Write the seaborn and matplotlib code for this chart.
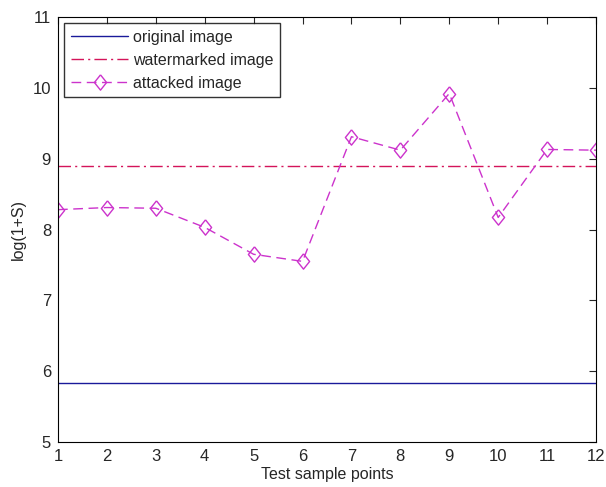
import numpy as np
import pandas as pd
import matplotlib
matplotlib.use("Agg")
import matplotlib.pyplot as plt
import seaborn as sns

points = list(range(1, 13))
original = [5.84] * 12
watermarked = [8.89] * 12
attacked = [8.28, 8.31, 8.30, 8.03, 7.65, 7.55, 9.31, 9.12, 9.92, 8.17, 9.13, 9.12]

sns.set_style("white")
plt.rcParams["font.family"] = ["Liberation Sans", "DejaVu Sans"]

df = pd.DataFrame({"x": points, "original": original,
                   "watermarked": watermarked, "attacked": attacked})

# matlab-like diamond, a bit narrower than tall
diamond = [(0, 1), (0.8, 0), (0, -1), (-0.8, 0), (0, 1)]

fig = plt.figure(figsize=(6.06, 4.87), dpi=100)
ax = fig.add_axes([58 / 606, 1 - 442 / 487, (596 - 58) / 606, (442 - 17) / 487])

sns.lineplot(data=df, x="x", y="original", ax=ax, color="#1a1a9a",
             linewidth=1.0, label="original image")
sns.lineplot(data=df, x="x", y="watermarked", ax=ax, color="#d4145a",
             linewidth=1.0, dashes=False, label="watermarked image")
sns.lineplot(data=df, x="x", y="attacked", ax=ax, color="#cc33cc",
             linewidth=1.0, marker=diamond, markersize=11,
             markerfacecolor="none", markeredgecolor="#cc33cc",
             markeredgewidth=1.0, label="attacked image")
ax.lines[1].set_dashes([9, 3, 1.5, 3])
ax.lines[2].set_dashes([7, 4])

ax.set_xlim(1, 12)
ax.set_ylim(5, 11)
ax.set_xticks(points)
ax.set_yticks(range(5, 12))
ax.set_xlabel("Test sample points", fontsize=11.5, labelpad=2)
ax.set_ylabel("log(1+S)", fontsize=11.5, labelpad=5)
ax.tick_params(direction="in", top=True, right=True, length=5,
               labelsize=12, width=0.8, pad=5)
for s in ax.spines.values():
    s.set_color("black")
    s.set_linewidth(0.8)

leg = ax.legend(loc="upper left", fontsize=11.5, frameon=True, fancybox=False,
                borderaxespad=0.4, handlelength=3.6, labelspacing=0.5,
                borderpad=0.4, handletextpad=0.3)
leg.get_frame().set_edgecolor("black")
leg.get_frame().set_linewidth(1.0)

fig.savefig("out.png", dpi=100)
